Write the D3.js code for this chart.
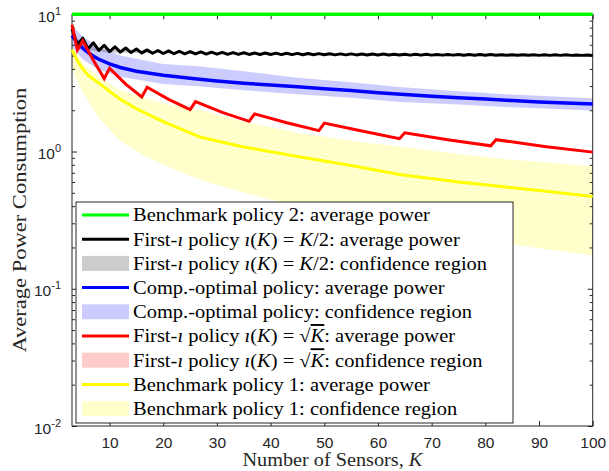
<!DOCTYPE html>
<html><head><meta charset="utf-8">
<script src="https://cdn.jsdelivr.net/npm/d3@7"></script>
<style>body{margin:0;background:#fff} svg{display:block}</style>
</head><body>
<svg id="c" width="609" height="471"></svg>
<script>
// ---------------- data ----------------
const xTicks = [10,20,30,40,50,60,70,80,90,100];
const yTicks = [0.01,0.1,1,10];
const yTickBase = ["10","10","10","10"];
const yTickExp = ["-2","-1","0","1"];

// Benchmark policy 2 (constant)
const greenK = [3,100];
const greenV = [10,10];

// First-i policy i(K)=K/2, average power (K = 3..100)
const blackK0 = 3;
const blackV = [7.8,6.0,6.7,5.6,6.2,5.45,5.95,5.35,5.8,5.3,5.68,5.26,5.58,5.23,5.5,5.2,5.45,5.18,
 5.41,5.16,5.38,5.15,5.35,5.14,5.32,5.13,5.3,5.12,5.28,5.11,5.26,5.1,5.25,5.1,5.23,5.09,5.22,5.09,
 5.21,5.08,5.2,5.08,5.19,5.07,5.18,5.07,5.17,5.07,5.16,5.06,5.15,5.06,5.15,5.06,5.14,5.05,5.13,5.05,
 5.13,5.05,5.12,5.05,5.12,5.04,5.11,5.04,5.11,5.04,5.1,5.04,5.1,5.04,5.1,5.03,5.09,5.03,5.09,5.03,
 5.09,5.03,5.08,5.03,5.08,5.03,5.08,5.03,5.07,5.02,5.07,5.02,5.07,5.02,5.07,5.02,5.06,5.02,5.06,5.02];
// its (narrow) confidence region
const grayK  = [3,6,10,20,40,70,100];
const grayHi = [7.0,5.9,5.55,5.3,5.15,5.08,5.05];
const grayLo = [6.6,5.5,5.25,5.2,5.1,5.06,5.03];

// Comp.-optimal policy
const blueK  = [3,4,5,6,7,8,10,12,15,20,25,30,35,40,45,50,55,60,65,70,75,80,85,90,95,100];
const blueV  = [7.0,6.2,5.65,5.25,4.95,4.7,4.35,4.1,3.85,3.6,3.42,3.27,3.15,3.05,2.96,2.87,2.78,2.68,2.6,2.53,2.47,2.41,2.35,2.3,2.26,2.22];
const blueBandK  = [3,5,8,12,20,27,35,45,55,64,75,85,100];
const blueBandHi = [8.3,6.9,5.7,5.0,4.35,4.16,3.85,3.45,3.2,2.95,2.75,2.6,2.45];
const blueBandLo = [5.8,4.7,3.95,3.5,3.1,2.98,2.8,2.62,2.47,2.3,2.2,2.1,1.99];

// First-i policy i(K)=sqrt(K)
const redK  = [3,4,5,7,9,10,13,16,17,21,25,26,31,36,37,43,49,50,57,64,65,73,81,82,91,100];
const redV  = [8.4,5.5,6.4,4.6,3.4,4.05,3.1,2.5,2.94,2.4,2.02,2.31,1.93,1.66,1.88,1.62,1.42,1.61,1.41,1.24,1.37,1.22,1.10,1.22,1.09,0.99];
const redHi = [8.5,5.6,6.5,4.67,3.45,4.1,3.15,2.54,2.98,2.44,2.05,2.34,1.96,1.69,1.91,1.64,1.44,1.63,1.43,1.26,1.39,1.24,1.12,1.24,1.1,1.0];
const redLo = [8.3,5.42,6.3,4.53,3.35,4.0,3.05,2.46,2.9,2.36,1.99,2.28,1.9,1.63,1.85,1.6,1.4,1.59,1.39,1.22,1.35,1.2,1.08,1.2,1.07,0.975];

// Benchmark policy 1
const yellowK = [3,4,5,6,8,10,12,15,20,27,35,45,55,64,75,83,90,100];
const yellowV = [5.5,4.6,4.0,3.6,3.15,2.75,2.4,2.05,1.65,1.27,1.08,0.92,0.79,0.68,0.6,0.556,0.52,0.47];
const yellowBandK  = [3,5,8,12,16,20,27,35,45,55,64,75,85,100];
const yellowBandHi = [5.8,4.4,3.5,2.8,2.5,2.25,2.0,1.65,1.37,1.2,1.09,0.96,0.87,0.78];
const yellowBandLo = [4.0,2.7,1.75,1.2,0.95,0.8,0.62,0.5,0.4,0.34,0.3,0.25,0.21,0.175];

// ---------------- chart ----------------
const svg = d3.select("#c");
const M = {l:72, r:592.7, t:14.3, b:426};
const x = d3.scaleLinear().domain([3,100]).range([M.l, M.r]);
const y = d3.scaleLog().domain([0.01,10]).range([M.b, M.t]);
const AX = "#262626";
const serif = "'Liberation Serif','Times New Roman',serif";
const sans = "'Liberation Sans',Arial,sans-serif";

const zip2 = (ks, vs) => ks.map((k,i)=>({k, v:vs[i]}));
const zip3 = (ks, hi, lo) => ks.map((k,i)=>({k, hi:hi[i], lo:lo[i]}));
const line = d3.line().x(d=>x(d.k)).y(d=>y(d.v));
const area = d3.area().x(d=>x(d.k)).y0(d=>y(d.lo)).y1(d=>y(d.hi));

// bands
svg.append("path").attr("d", area(zip3(yellowBandK,yellowBandHi,yellowBandLo))).attr("fill","#ffff00").attr("fill-opacity",0.2);
svg.append("path").attr("d", area(zip3(blueBandK,blueBandHi,blueBandLo))).attr("fill","#0000ff").attr("fill-opacity",0.2);
svg.append("path").attr("d", area(zip3(redK,redHi,redLo))).attr("fill","#ff0000").attr("fill-opacity",0.2);
svg.append("path").attr("d", area(zip3(grayK,grayHi,grayLo))).attr("fill","#000000").attr("fill-opacity",0.2);

// axes box + ticks
const gAx = svg.append("g");
function styleAxis(g){ g.select(".domain").remove(); g.selectAll("line").attr("stroke",AX); }
gAx.append("g").attr("transform",`translate(0,${M.b})`)
  .call(d3.axisBottom(x).tickValues(xTicks).tickSizeInner(-5).tickSizeOuter(0).tickPadding(11))
  .call(g=>{styleAxis(g); g.selectAll("text").attr("font-family",sans).attr("font-size",15.5).attr("fill",AX);});
gAx.append("g").attr("transform",`translate(0,${M.t})`)
  .call(d3.axisTop(x).tickValues(xTicks).tickSizeInner(-5).tickSizeOuter(0).tickFormat(""))
  .call(styleAxis);
const minor = [];
[0.01,0.1,1].forEach(d=>{ for(let m=2;m<=9;m++) minor.push(d*m); });
[["L",d3.axisLeft,M.l],["R",d3.axisRight,M.r]].forEach(([n,ax,px])=>{
  gAx.append("g").attr("transform",`translate(${px},0)`)
    .call(ax(y).tickValues(yTicks).tickSizeInner(-5).tickSizeOuter(0).tickFormat("")).call(styleAxis);
  gAx.append("g").attr("transform",`translate(${px},0)`)
    .call(ax(y).tickValues(minor).tickSizeInner(-3).tickSizeOuter(0).tickFormat("")).call(styleAxis);
});
gAx.append("rect").attr("x",M.l).attr("y",M.t).attr("width",M.r-M.l).attr("height",M.b-M.t)
  .attr("fill","none").attr("stroke",AX).attr("stroke-width",1);

// y tick labels 10^n
yTicks.forEach((t,i)=>{
  const tx = svg.append("text").attr("x",61).attr("y",y(t)+7.5).attr("text-anchor","end")
    .attr("font-family",sans).attr("font-size",15.5).attr("fill",AX);
  tx.append("tspan").text(yTickBase[i]);
  tx.append("tspan").attr("dy",-7).attr("font-size",11).text(yTickExp[i]);
});

// lines
svg.append("path").attr("d",line(zip2(yellowK,yellowV))).attr("fill","none").attr("stroke","#ffff00").attr("stroke-width",3);
svg.append("path").attr("d",line(zip2(blueK,blueV))).attr("fill","none").attr("stroke","#0000ff").attr("stroke-width",3.5);
svg.append("path").attr("d",line(blackV.map((v,i)=>({k:blackK0+i, v})))).attr("fill","none").attr("stroke","#000").attr("stroke-width",3).attr("stroke-linejoin","round");
svg.append("path").attr("d",line(zip2(redK,redV))).attr("fill","none").attr("stroke","#ff0000").attr("stroke-width",3);
svg.append("path").attr("d",line(zip2(greenK,greenV))).attr("fill","none").attr("stroke","#00ff00").attr("stroke-width",3.5);

// legend
const L = {x:76, y:202, w:437, h:221, row0:215, dy:24.2, sx0:82, sx1:129, tx:133};
svg.append("rect").attr("x",L.x).attr("y",L.y).attr("width",L.w).attr("height",L.h)
  .attr("fill","#fff").attr("stroke",AX).attr("stroke-width",1);
const I = s=>({t:s,i:true});
const firstK2 = ["First-",I("ı")," policy ",I("ı"),"(",I("K"),") = ",I("K"),"/2: "];
const firstSq = ["First-",I("ı")," policy ",I("ı"),"(",I("K"),") = √",{t:"K",i:true,o:true},": "];
const legend = [
  {type:"line", color:"#00ff00", parts:["Benchmark policy 2: average power"]},
  {type:"line", color:"#000000", parts:[...firstK2,"average power"]},
  {type:"patch", color:"#000000", parts:[...firstK2,"confidence region"]},
  {type:"line", color:"#0000ff", parts:["Comp.-optimal policy: average power"]},
  {type:"patch", color:"#0000ff", parts:["Comp.-optimal policy: confidence region"]},
  {type:"line", color:"#ff0000", parts:[...firstSq,"average power"]},
  {type:"patch", color:"#ff0000", parts:[...firstSq,"confidence region"]},
  {type:"line", color:"#ffff00", parts:["Benchmark policy 1: average power"]},
  {type:"patch", color:"#ffff00", parts:["Benchmark policy 1: confidence region"]},
];
let kScale = 1;
legend.forEach((e,i)=>{
  const cy = L.row0 + i*L.dy;
  if(e.type==="line"){
    svg.append("line").attr("x1",L.sx0).attr("x2",L.sx1).attr("y1",cy).attr("y2",cy)
      .attr("stroke",e.color).attr("stroke-width",3);
  } else {
    svg.append("rect").attr("x",L.sx0).attr("y",cy-7.5).attr("width",L.sx1-L.sx0).attr("height",15)
      .attr("fill",e.color).attr("fill-opacity",0.2);
  }
  const g = svg.append("g").attr("class","lt").attr("data-y",cy+6.3);
  const t = g.append("text").attr("x",0).attr("y",0).attr("font-family",serif).attr("font-size",19).attr("fill","#000");
  e.parts.forEach(p=>{
    if(typeof p==="string") t.append("tspan").text(p);
    else { const s=t.append("tspan").text(p.t).attr("font-style","italic");
           if(p.o) s.style("text-decoration","overline"); }
  });
  if(i===0) kScale = 297 / t.node().getComputedTextLength();
});
svg.selectAll("g.lt").attr("transform",function(){return `translate(${L.tx},${this.getAttribute("data-y")}) scale(${kScale},1)`;});

// axis titles
const yl = svg.append("g");
const ylt = yl.append("text").attr("font-family",serif).attr("font-size",19).attr("fill",AX).attr("text-anchor","middle")
  .text("Average Power Consumption");
const ylw = ylt.node().getComputedTextLength();
yl.attr("transform",`translate(25.5,${(M.t+M.b)/2}) rotate(-90) scale(${265/ylw},1)`);

const xl = svg.append("g");
const xlt = xl.append("text").attr("font-family",serif).attr("font-size",18.5).attr("fill",AX).attr("text-anchor","middle");
xlt.append("tspan").text("Number of Sensors, ");
xlt.append("tspan").attr("font-style","italic").text("K");
const xlw = xlt.node().getComputedTextLength();
xl.attr("transform",`translate(${(M.l+M.r)/2},465.5) scale(${180/xlw},1)`);
</script>
</body></html>
